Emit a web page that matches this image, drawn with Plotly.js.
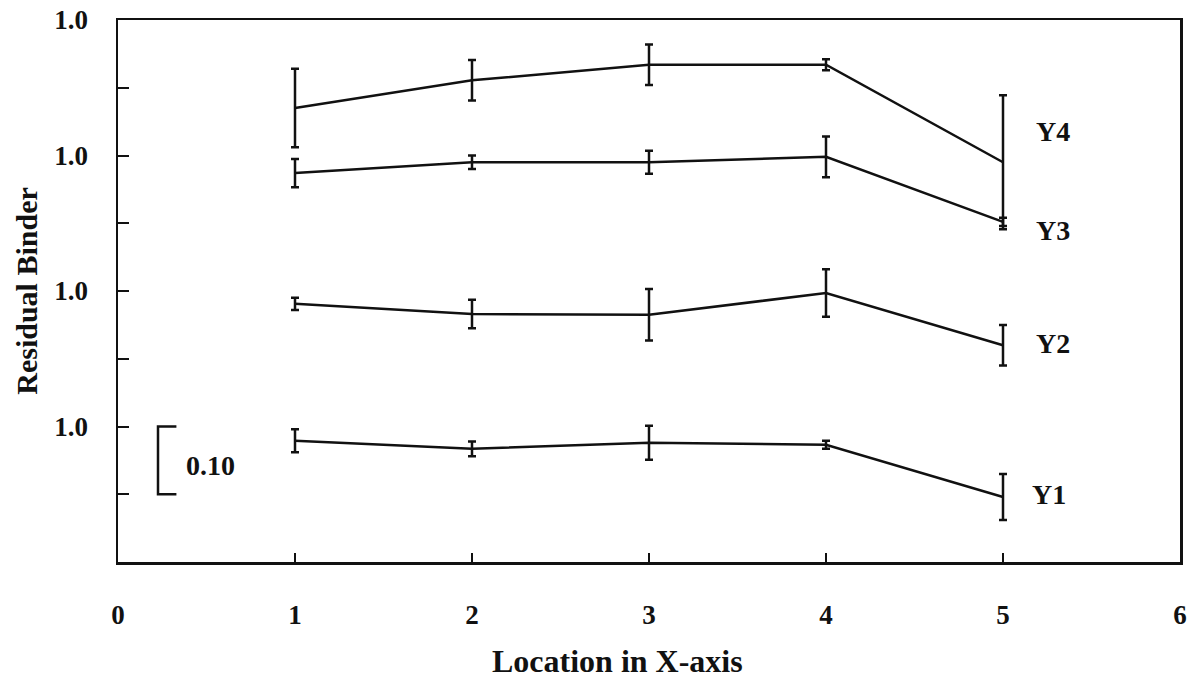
<!DOCTYPE html>
<html>
<head>
<meta charset="utf-8">
<script src="https://cdn.plot.ly/plotly-3.0.1.min.js"></script>
<style>
  html, body { margin: 0; padding: 0; background: #fff; }
  #chart { width: 1190px; height: 679px; }
</style>
</head>
<body>
<div id="chart"></div>
<script>
// Locations on the x-axis
const locations = [1, 2, 3, 4, 5];

// Series values (offset on a shared axis) and error half-widths
const y1Values = [0.179, 0.167, 0.176, 0.173, 0.096];
const y1Errors = [0.017, 0.011, 0.025, 0.006, 0.034];

const y2Values = [0.381, 0.366, 0.365, 0.397, 0.320];
const y2Errors = [0.009, 0.021, 0.038, 0.035, 0.030];

const y3Values = [0.574, 0.590, 0.590, 0.598, 0.502];
const y3Errors = [0.021, 0.010, 0.017, 0.030, 0.006];

const y4Values = [0.670, 0.711, 0.734, 0.734, 0.590];
const y4Errors = [0.058, 0.030, 0.030, 0.008, 0.099];

const seriesNames = ["Y1", "Y2", "Y3", "Y4"];

// Tick positions and labels
const yTickVals = [0.1, 0.2, 0.3, 0.4, 0.5, 0.6, 0.7, 0.8];
const yTickText = ["", "1.0", "", "1.0", "", "1.0", "", "1.0"];
const xTickVals = [0, 1, 2, 3, 4, 5, 6];
const xTickText = ["0", "1", "2", "3", "4", "5", "6"];

const xTitle = "Location in X-axis";
const yTitle = "Residual Binder";
const scaleBarLabel = "0.10";

const FONT = "Liberation Serif, Times New Roman, serif";
const INK = "#111";

function series(name, vals, errs) {
  return {
    x: locations, y: vals, name: name, type: "scatter", mode: "lines",
    line: { color: INK, width: 2.5 },
    error_y: { type: "data", array: errs, visible: true, color: INK, thickness: 2.5, width: 4 },
    showlegend: false, hoverinfo: "skip"
  };
}

const data = [
  series(seriesNames[0], y1Values, y1Errors),
  series(seriesNames[1], y2Values, y2Errors),
  series(seriesNames[2], y3Values, y3Errors),
  series(seriesNames[3], y4Values, y4Errors)
];

const labelPos = [
  { x: 5.26, y: 0.099 },
  { x: 5.28, y: 0.323 },
  { x: 5.28, y: 0.490 },
  { x: 5.28, y: 0.636 }
];

const annotations = seriesNames.map((n, i) => ({
  x: labelPos[i].x, y: labelPos[i].y, xref: "x", yref: "y",
  text: n, showarrow: false,
  font: { family: FONT, size: 28, color: INK, weight: "bold" }
}));
annotations.push({
  x: 0.375, y: 0.143, xref: "x", yref: "y", text: scaleBarLabel,
  showarrow: false, xanchor: "left", font: { family: FONT, size: 28, color: INK, weight: "bold" }
});
// x-axis title placed as in the original figure (slightly left of centre)
annotations.push({
  x: 0.47, y: -0.1827, xref: "paper", yref: "paper", text: xTitle,
  showarrow: false, xanchor: "center", yanchor: "middle",
  font: { family: FONT, size: 32, color: INK, weight: "bold" }
});

const layout = {
  width: 1190, height: 679,
  margin: { l: 118, r: 10, t: 20, b: 117 },
  paper_bgcolor: "#fff", plot_bgcolor: "#fff",
  font: { family: FONT, color: INK },
  xaxis: {
    range: [0, 6], tickvals: xTickVals, ticktext: xTickText,
    ticks: "inside", ticklen: 9, tickwidth: 2, tickcolor: INK,
    showline: true, linewidth: 2.5, linecolor: INK, mirror: true,
    showgrid: false, zeroline: false, automargin: false,
    tickfont: { family: FONT, size: 27, color: INK, weight: "bold" },
    ticklabelstandoff: 27
  },
  yaxis: {
    range: [0, 0.8], tickvals: yTickVals, ticktext: yTickText,
    ticks: "inside", ticklen: 11, tickwidth: 2, tickcolor: INK,
    showline: true, linewidth: 2.5, linecolor: INK, mirror: true,
    showgrid: false, zeroline: false, automargin: false,
    tickfont: { family: FONT, size: 27, color: INK, weight: "bold" },
    ticklabelstandoff: 22,
    title: { text: yTitle, font: { family: FONT, size: 30, color: INK, weight: "bold" }, standoff: 8 }
  },
  shapes: [{
    type: "path", xref: "x", yref: "y",
    path: "M 0.33 0.2 L 0.226 0.2 L 0.226 0.1 L 0.33 0.1",
    line: { color: INK, width: 2.5 }
  }],
  annotations: annotations
};

Plotly.newPlot("chart", data, layout, { displayModeBar: false, staticPlot: true });
</script>
</body>
</html>
